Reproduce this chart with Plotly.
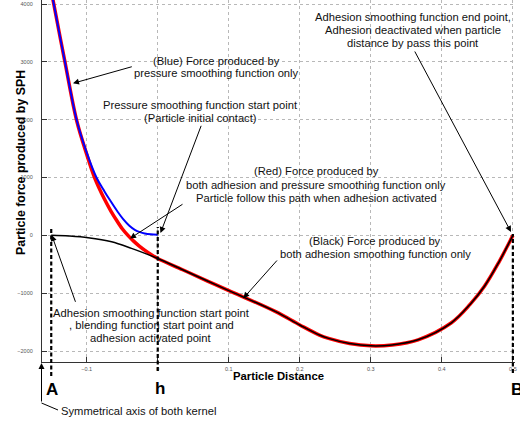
import plotly.graph_objects as go

# ---------------- data ----------------
blue_x = [-0.150, -0.1475, -0.1307, -0.1143, -0.100, -0.0863, -0.075, -0.0674, -0.056, -0.0487,
          -0.040, -0.0323, -0.025, -0.0183, -0.010, 0.0]
blue_y = [4260, 4070, 3000, 2000, 1430, 1000, 760, 610, 400, 280,
          165, 95, 55, 32, 18, 12]

red_pre_x = [-0.150, -0.1475, -0.1307, -0.1143, -0.100, -0.089, -0.0744, -0.066, -0.058, -0.050,
             -0.042, -0.034, -0.026, -0.018, -0.009, 0.0]
red_pre_y = [4260, 4070, 3000, 1990, 1400, 1000, 610, 420, 260, 115,
             0, -100, -185, -260, -335, -400]

black_x = [-0.150, -0.125, -0.098, -0.065, -0.037, -0.018, 0.0, 0.035, 0.070, 0.100, 0.166, 0.200,
           0.2276, 0.2405, 0.270, 0.300, 0.330, 0.3665, 0.413, 0.440, 0.460, 0.480, 0.500]
black_y = [0, -12, -40, -110, -225, -311, -400, -595, -790, -955, -1320, -1550,
           -1724, -1781, -1870, -1910, -1895, -1806, -1516, -1190, -880, -470, 0]

x_ticks = [-0.1, 0, 0.1, 0.2, 0.3, 0.4, 0.5]
x_tick_text = ["\u22120.1", "0", "0.1", "0.2", "0.3", "0.4", "0.5"]
y_ticks = [-2000, -1000, 0, 1000, 2000, 3000, 4000]
y_tick_text = ["\u22122000", "\u22121000", "0", "1000", "2000", "3000", "4000"]

marker_x = {"A": -0.15, "h": 0.0, "B": 0.5}

# red path: own early part, then it follows the black curve
red_x = red_pre_x + [x for x in black_x if x > 0]
red_y = red_pre_y + [y for x, y in zip(black_x, black_y) if x > 0]

# ---------------- figure ----------------
W, H = 520, 426
L, R, T, B = 42, 5, 0, 64
PW, PH = W - L - R, H - T - B


def px(p):  # pixel x -> paper
    return (p - L) / PW


def py(p):  # pixel y -> paper
    return (H - B - p) / PH


FONT = "Liberation Sans, Arial, sans-serif"
SM = 1.0

fig = go.Figure()
fig.add_trace(go.Scatter(x=red_x, y=red_y, mode="lines",
                         line=dict(color="#ff0000", width=3.5, shape="spline", smoothing=SM),
                         hoverinfo="skip"))
fig.add_trace(go.Scatter(x=blue_x, y=blue_y, mode="lines",
                         line=dict(color="#0000ff", width=2, shape="spline", smoothing=SM),
                         hoverinfo="skip"))
fig.add_trace(go.Scatter(x=black_x, y=black_y, mode="lines",
                         line=dict(color="#000000", width=1.5, shape="spline", smoothing=SM),
                         hoverinfo="skip"))

# dashed markers A, h, B
dash_extent = {"A": (376, 227), "h": (371, 227), "B": (373, 234)}
for k, xv in marker_x.items():
    b0, t0 = dash_extent[k]
    fig.add_shape(type="line", xref="x", yref="paper", x0=xv, x1=xv, y0=py(b0), y1=py(t0),
                  line=dict(color="black", width=2.2, dash="4px,2.5px"), layer="above")

TXT = dict(family=FONT, size=11.2, color="#111111")
blocks = [  # (lines, centre x, line y positions) in pixels
    (["(Blue) Force produced by", "pressure smoothing function only"], 216, [60.7, 73.3]),
    (["Pressure smoothing function start point", "(Particle initial contact)"], 200, [105.3, 118]),
    (["(Red) Force produced by", "both adhesion and pressure smoothing function only",
      "Particle follow this path when adhesion activated"], 316, [171, 184.5, 198]),
    (["(Black) Force produced by", "both adhesion smoothing function only"], 375, [241, 254]),
    (["Adhesion smoothing function start point", ", blending function start point and",
      "adhesion activated point"], 151, [312.7, 325, 337.7]),
    (["Adhesion smoothing function end point,", "Adhesion deactivated when particle",
      "distance by pass this point"], 413, [16.7, 30, 43.3]),
]
for lines, cx, ys in blocks:
    for t, cy in zip(lines, ys):
        fig.add_annotation(text=t, xref="paper", yref="paper", x=px(cx), y=py(cy),
                           showarrow=False, font=TXT, xanchor="center", yanchor="middle")

arrows = [  # head (x,y) , tail (x,y) in pixels
    ((73, 83.3), (133.3, 66.3)),
    ((160.5, 233), (201.7, 124.3)),
    ((130, 238.5), (184, 203.3)),
    ((243.3, 298.3), (278.3, 259)),
    ((51.7, 235), (76, 303.3)),
    ((511, 232), (414, 50)),
    ((41.5, 363), (41.5, 403)),
]
for (hx, hy), (tx, ty) in arrows:
    fig.add_annotation(text="", xref="paper", yref="paper", x=px(hx), y=py(hy),
                       axref="pixel", ayref="pixel", ax=tx - hx, ay=ty - hy,
                       showarrow=True, arrowhead=2, arrowsize=1.2, arrowwidth=1,
                       arrowcolor="black")

fig.add_shape(type="line", xref="paper", yref="paper", x0=px(41.5), y0=py(403),
              x1=px(58), y1=py(410), line=dict(color="black", width=1))
fig.add_annotation(text="Symmetrical axis of both kernel", xref="paper", yref="paper",
                   x=px(59), y=py(410.7), xanchor="left", yanchor="middle",
                   showarrow=False, font=TXT)

# big letters
for k, (cx, cy) in {"A": (52, 389), "h": (159.5, 388.5), "B": (517, 389)}.items():
    fig.add_annotation(text="<b>%s</b>" % k, xref="paper", yref="paper", x=px(cx), y=py(cy),
                       xanchor="center", yanchor="middle", showarrow=False,
                       font=dict(family=FONT, size=17, color="black"))

# axis titles
fig.add_annotation(text="<b>Particle Distance</b>", xref="paper", yref="paper",
                   x=px(278.3), y=py(384), showarrow=False,
                   font=dict(family=FONT, size=11.3, color="black"))
fig.add_annotation(text="<b>Particle force produced by SPH</b>", xref="paper", yref="paper",
                   x=px(12), y=py(163), showarrow=False, textangle=-90,
                   font=dict(family=FONT, size=12.4, color="black"))

AX = dict(showline=True, linecolor="#333333", linewidth=1.2, ticks="inside", ticklen=5,
          tickcolor="#333333", showgrid=True, gridcolor="#b8b8b8", griddash="dot",
          gridwidth=1, zeroline=False, mirror=False, automargin=False,
          tickfont=dict(family=FONT, size=5.5, color="#555555"))

fig.update_layout(
    width=W, height=H,
    margin=dict(l=L, r=R, t=T, b=B, pad=0, autoexpand=False),
    paper_bgcolor="white", plot_bgcolor="white",
    showlegend=False,
    xaxis=dict(range=[-0.163, 0.503], tickvals=x_ticks, ticktext=x_tick_text,
               ticklabelstandoff=1, **AX),
    yaxis=dict(range=[-2190, 4070], tickvals=y_ticks, ticktext=y_tick_text,
               ticklabelstandoff=7, **AX),
)

fig.write_html("out.html", config={"displayModeBar": False},
               post_script="document.body.style.margin='0';document.body.style.overflow='hidden';")
